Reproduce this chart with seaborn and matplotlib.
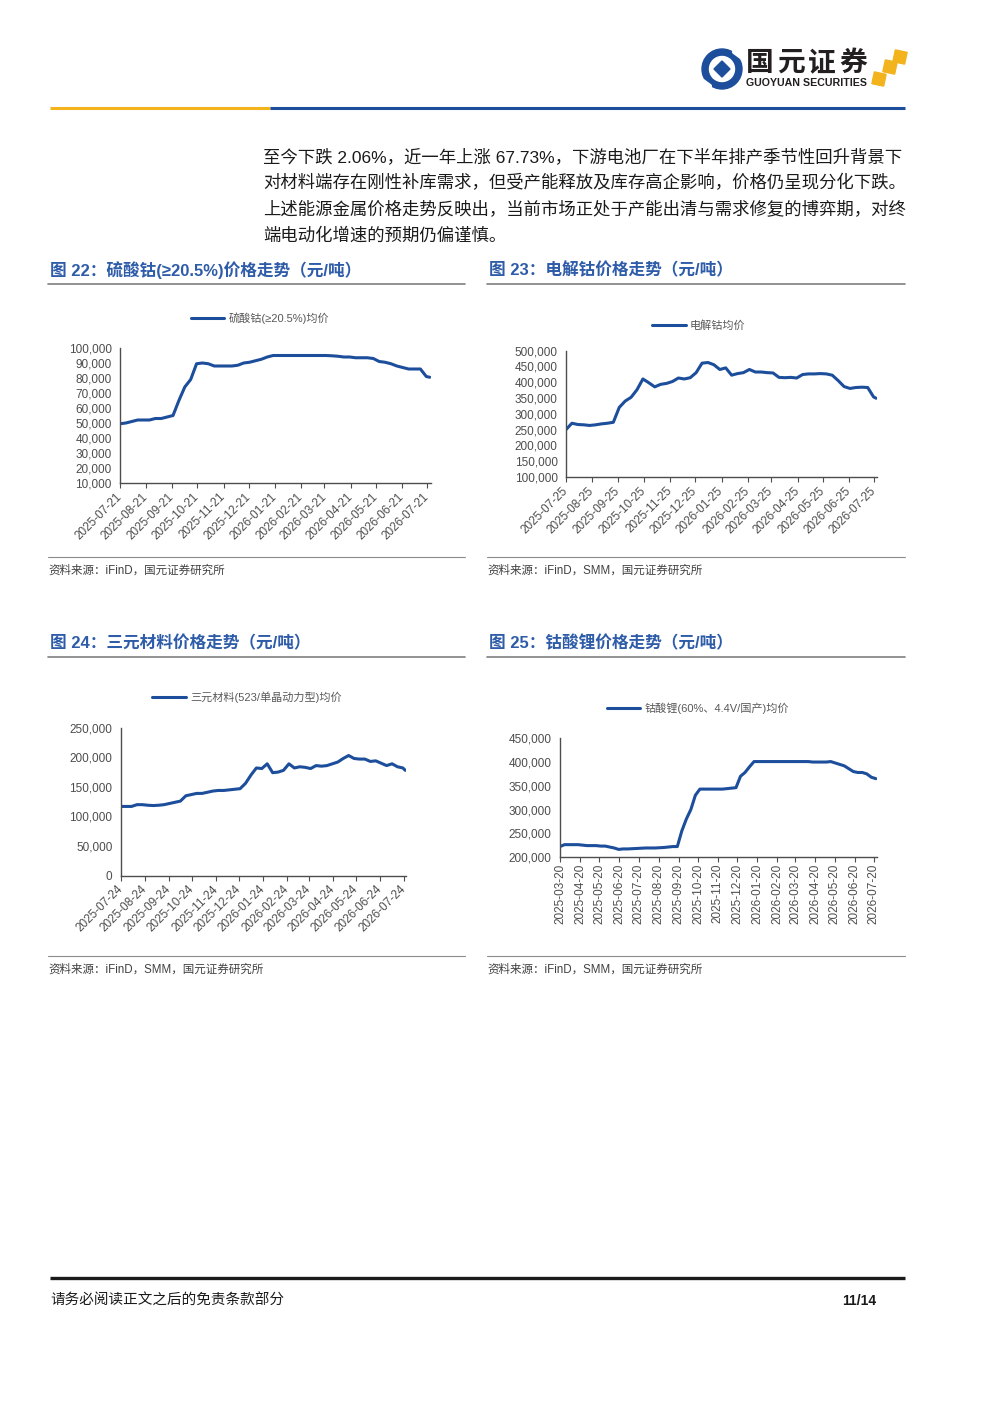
import pandas as pd
import seaborn as sns
import matplotlib.pyplot as plt
from matplotlib.ticker import FuncFormatter
from matplotlib.patches import Circle, Rectangle, Polygon

sns.set_theme(style="white")
plt.rcParams['font.family'] = ['Liberation Sans', 'Noto Sans CJK SC', 'DejaVu Sans']

W, H = 1000, 1414
BLUE = '#1C4E9C'
TITLE_BLUE = '#2E5CA8'
GOLD = '#F2B31C'
GRAY = '#4D4D4D'

# ---- 数据（周度读数，元/吨） ----
# 图22 硫酸钴(≥20.5%)
cs_dates = pd.date_range('2025-07-21', periods=53, freq='7D').append(pd.DatetimeIndex(['2026-07-24']))
cs_vals = [49500, 50000, 51000, 52000, 52000, 52000, 53000, 53000, 54000, 55000,
           65000, 74000, 79000, 89500, 90000, 89500, 88000, 88000, 88000, 88000,
           88500, 90000, 90500, 91500, 92500, 94000, 95000, 95000, 95000, 95000,
           95000, 95000, 95000, 95000, 95000, 95000, 94800, 94500, 94000, 94000,
           93500, 93500, 93500, 93000, 91000, 90500, 89500, 88000, 87000, 86000,
           86000, 86000, 81000, 80500]

# 图23 电解钴
co_dates = pd.date_range('2025-07-25', periods=53, freq='7D').append(pd.DatetimeIndex(['2026-07-27']))
co_vals = [250000, 270000, 266000, 265000, 263000, 265000, 268000, 270000, 273000, 320000,
           340000, 352000, 376000, 410000, 398000, 385000, 393000, 396000, 402000, 413000,
           410000, 414000, 430000, 460000, 462000, 455000, 440000, 445000, 422000, 427000,
           430000, 440000, 432000, 432000, 430000, 429000, 415000, 414000, 415000, 413000,
           424000, 426000, 426000, 427000, 426000, 422000, 405000, 386000, 380000, 383000,
           384000, 383000, 353000, 349000]

# 图24 三元材料(523/单晶动力型)
ncm_dates = pd.date_range('2025-07-24', periods=53, freq='7D').append(pd.DatetimeIndex(['2026-07-26']))
ncm_vals = [117000, 117000, 117000, 120000, 120000, 119000, 118500, 119000, 120000, 122000,
            124000, 126000, 135000, 137000, 139000, 139000, 141000, 143000, 144000, 144000,
            145000, 146000, 147000, 156000, 170000, 182000, 181000, 189000, 174000, 175000,
            178000, 189000, 182000, 184000, 183000, 181000, 186000, 185000, 186000, 189000,
            192000, 198000, 203000, 198000, 197000, 197000, 193000, 194000, 190000, 186000,
            189000, 184000, 182000, 178000]

# 图25 钴酸锂(60%、4.4V/国产)
lco_dates = pd.date_range('2025-03-20', periods=71, freq='7D')
lco_vals = [222000, 226000, 226000, 226000, 226000, 225000, 224000, 224000, 224000, 223000,
            223000, 221000, 219000, 216000, 217000, 217000, 217500, 218000, 218500, 219000,
            219000, 219000, 219500, 220000, 221000, 222000, 222000, 255000, 280000, 300000,
            330000, 343000, 343000, 343000, 343000, 343000, 343000, 344000, 345000, 346000,
            370000, 378000, 390000, 401000, 401000, 401000, 401000, 401000, 401000, 401000,
            401000, 401000, 401000, 401000, 401000, 401000, 400000, 400000, 400000, 400000,
            401000, 398000, 395000, 392000, 386000, 380000, 378000, 378000, 375000, 368000,
            365000]

fig = plt.figure(figsize=(10, 14.14), dpi=100)

# 背景层，用像素坐标放置文字和线条
bg = fig.add_axes([0, 0, 1, 1])
bg.set_xlim(0, W)
bg.set_ylim(H, 0)
bg.axis('off')


def px_axes(l, t, r, b):
    return fig.add_axes([l / W, 1 - b / H, (r - l) / W, (b - t) / H])


def draw_chart(box, dates, vals, label, xlim, ticks, ylim, ystep, leg_xy, rot=45):
    ax = px_axes(*box)
    df = pd.DataFrame({'date': dates, 'price': vals})
    sns.lineplot(data=df, x='date', y='price', ax=ax, color=BLUE, lw=2.2, label=label)
    ax.set_xlim(pd.Timestamp(xlim[0]), pd.Timestamp(xlim[1]))
    ax.set_ylim(*ylim)
    ax.set_yticks(range(ylim[0], ylim[1] + 1, ystep))
    ax.yaxis.set_major_formatter(FuncFormatter(lambda v, p: f'{v:,.0f}'))
    ax.set_xticks(ticks)
    labels = [d.strftime('%Y-%m-%d') for d in ticks]
    if rot == 45:
        ax.set_xticklabels(labels, rotation=45, ha='right', va='center', rotation_mode='anchor')
        ax.tick_params(axis='x', pad=5)
    else:
        ax.set_xticklabels(labels, rotation=90)
        ax.tick_params(axis='x', pad=1)
    ax.set_xlabel('')
    ax.set_ylabel('')
    sns.despine(ax=ax)
    for s in ('left', 'bottom'):
        ax.spines[s].set_color(GRAY)
        ax.spines[s].set_linewidth(1.0)
    ax.tick_params(axis='x', bottom=True, length=3.5, width=0.8, color=GRAY,
                   labelsize=8.5, labelcolor=GRAY)
    ax.tick_params(axis='y', left=False, length=0, labelsize=8.5, labelcolor=GRAY, pad=6)
    ax.legend(loc='center', bbox_to_anchor=(leg_xy[0] / W, 1 - leg_xy[1] / H),
              bbox_transform=fig.transFigure, frameon=False, fontsize=8,
              handlelength=3.0, handletextpad=0.4, labelcolor='#595959')
    return ax


def months(start, end):
    return pd.date_range(start, end, freq=pd.DateOffset(months=1))


draw_chart((120, 348, 430.5, 483), cs_dates, cs_vals, '硫酸钴(≥20.5%)均价',
           ('2025-07-21', '2026-07-25'), months('2025-07-21', '2026-07-21'),
           (10000, 100000), 10000, (260, 318))
draw_chart((566, 350.5, 877, 477), co_dates, co_vals, '电解钴均价',
           ('2025-07-25', '2026-07-28'), months('2025-07-25', '2026-07-25'),
           (100000, 500000), 50000, (699, 326))
draw_chart((120.7, 727.7, 406, 875.7), ncm_dates, ncm_vals, '三元材料(523/单晶动力型)均价',
           ('2025-07-24', '2026-07-27'), months('2025-07-24', '2026-07-24'),
           (0, 250000), 50000, (247, 697))
draw_chart((560, 738.3, 876.5, 857), lco_dates, lco_vals, '钴酸锂(60%、4.4V/国产)均价',
           ('2025-03-20', '2026-07-24'), months('2025-03-20', '2026-07-20'),
           (200000, 450000), 50000, (698, 708), rot=90)

# ---- 页眉 ----
bg.plot([50, 270], [108, 108], color=GOLD, lw=2.2, solid_capstyle='butt')
bg.plot([270, 905], [108, 108], color=BLUE, lw=2.2, solid_capstyle='butt')
bg.add_patch(Circle((722, 69), 20, color=BLUE))
bg.add_patch(Circle((722, 69), 12.5, color='white'))
bg.plot([734, 745], [52, 60], color='white', lw=3)
bg.plot([699, 710], [78, 86], color='white', lw=3)
bg.add_patch(Polygon([(722, 61), (730, 69), (722, 77), (714, 69)], color=BLUE))
for i, ch in enumerate('国元证券'):
    bg.text(760 + i * 31, 63, ch, fontsize=20, fontweight='bold', color='#231F20',
            ha='center', va='center', family=['Noto Sans CJK SC'])
bg.text(806.5, 83, 'GUOYUAN SECURITIES', fontsize=7.7, fontweight='bold', color='#231F20',
        ha='center', va='center')
for cx, cy in [(879, 79), (890, 67), (900, 57)]:
    bg.add_patch(Rectangle((cx - 6, cy - 6), 12, 12, angle=12, rotation_point='center',
                           color=GOLD))

# ---- 正文 ----
body = ['至今下跌 2.06%，近一年上涨 67.73%，下游电池厂在下半年排产季节性回升背景下',
        '对材料端存在刚性补库需求，但受产能释放及库存高企影响，价格仍呈现分化下跌。',
        '上述能源金属价格走势反映出，当前市场正处于产能出清与需求修复的博弈期，对终',
        '端电动化增速的预期仍偏谨慎。']
for i, line in enumerate(body):
    bg.text(263, 157 + i * 26, line, fontsize=12.5, color='#1A1A1A', va='center')

# ---- 图标题 ----
titles = [(50, 270, '图 22：硫酸钴(≥20.5%)价格走势（元/吨）'),
          (489, 270, '图 23：电解钴价格走势（元/吨）'),
          (50, 643, '图 24：三元材料价格走势（元/吨）'),
          (489, 643, '图 25：钴酸锂价格走势（元/吨）')]
for x, y, t in titles:
    bg.text(x, y, t, fontsize=12, fontweight='bold', color=TITLE_BLUE, va='center')
for x0, x1 in [(48, 465), (487, 905)]:
    bg.plot([x0, x1], [284, 284], color='#7F7F7F', lw=1.2)
    bg.plot([x0, x1], [657, 657], color='#7F7F7F', lw=1.2)
    bg.plot([x0, x1], [557, 557], color='#8C8C8C', lw=0.8)
    bg.plot([x0, x1], [956, 956], color='#8C8C8C', lw=0.8)

# ---- 资料来源 ----
src = [(48, 571, '资料来源：iFinD，国元证券研究所'),
       (487, 571, '资料来源：iFinD，SMM，国元证券研究所'),
       (48, 970, '资料来源：iFinD，SMM，国元证券研究所'),
       (487, 970, '资料来源：iFinD，SMM，国元证券研究所')]
for x, y, t in src:
    bg.text(x, y, t, fontsize=8.3, color='#404040', va='center')

# ---- 页脚 ----
bg.plot([50, 905], [1278, 1278], color='#1A1A1A', lw=2.4, solid_capstyle='butt')
bg.text(50, 1301, '请务必阅读正文之后的免责条款部分', fontsize=10.5, color='#1A1A1A', va='center')
bg.text(876, 1301, '11/14', fontsize=10, fontweight='bold', color='#1A1A1A',
        ha='right', va='center')

fig.savefig('out.png', dpi=100)
